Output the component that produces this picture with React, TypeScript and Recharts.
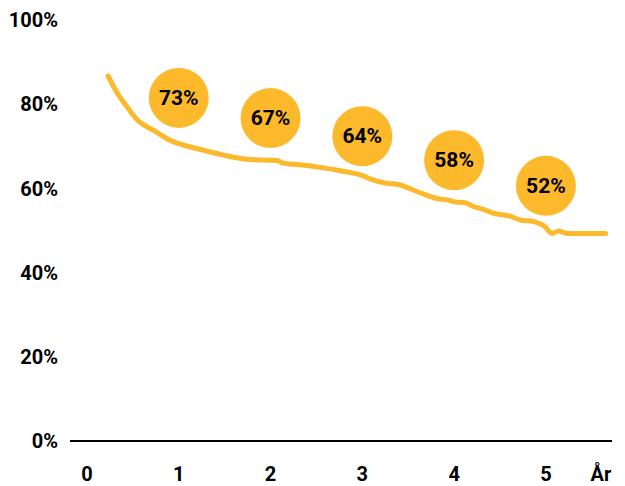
import React from 'react';
import { ComposedChart, Line, Scatter, XAxis, YAxis } from 'recharts';

// survival curve (year, percent)
const curveYears = [0.23, 0.28, 0.32, 0.38, 0.44, 0.5, 0.56, 0.65, 0.74, 0.9, 1.23, 1.6, 1.74, 2.07, 2.14, 2.32, 2.54, 2.76, 2.98, 3.09, 3.27, 3.38, 3.6, 3.81, 3.96, 4.0, 4.12, 4.21, 4.32, 4.43, 4.61, 4.72, 4.87, 4.98, 5.07, 5.14, 5.23, 5.65];
const curveValues = [86.7, 84.6, 83.0, 81.0, 79.3, 77.5, 76.0, 74.7, 73.6, 71.5, 69.3, 67.4, 66.9, 66.6, 66.0, 65.6, 65.0, 64.2, 63.2, 62.2, 61.2, 61.0, 59.2, 57.6, 57.1, 56.8, 56.6, 55.7, 55.0, 54.1, 53.4, 52.5, 52.1, 51.1, 49.3, 49.9, 49.3, 49.3];

// bubbles
const bubbleYears = [1, 2, 3, 4, 5];
const bubblePos = [81.5, 76.7, 72.4, 66.7, 60.6];
const bubbleLabels = ['73%', '67%', '64%', '58%', '52%'];

const xTicks = [0, 1, 2, 3, 4, 5, 5.6];
const yTicks = [0, 20, 40, 60, 80, 100];

const lineData = curveYears.map((year, i) => ({ year, value: curveValues[i] }));
const bubbleData = bubbleYears.map((year, i) => ({ year, value: bubblePos[i], label: bubbleLabels[i] }));

const YELLOW = '#FDB92C';
const FONT = 'Roboto, sans-serif';

const Bubble = (props: any) => {
  const { cx, cy, payload } = props;
  return (
    <g>
      <circle cx={cx} cy={cy} r={30} fill={YELLOW} />
      <text x={cx} y={cy} textAnchor="middle" dominantBaseline="central" fontFamily={FONT} fontWeight={700} fontSize={21} fill="#000">
        {payload.label}
      </text>
    </g>
  );
};

const App = () => {
  return (
    <div style={{ position: 'absolute', left: 0, top: 0, background: '#fff' }}>
      <ComposedChart width={625} height={486} margin={{ top: 20, right: 13, left: 0, bottom: 0 }}>
        <XAxis
          dataKey="year"
          type="number"
          domain={[-0.185, 5.72]}
          ticks={xTicks}
          tickFormatter={(v: number) => (v > 5.1 ? 'År' : String(v))}
          allowDataOverflow
          height={45}
          tickLine={false}
          tickMargin={20}
          axisLine={{ stroke: '#000', strokeWidth: 2 }}
          tick={{ fill: '#000', fontFamily: FONT, fontWeight: 700, fontSize: 20 }}
        />
        <YAxis
          dataKey="value"
          type="number"
          domain={[0, 100]}
          ticks={yTicks}
          tickFormatter={(v: number) => `${v}%`}
          width={70}
          axisLine={false}
          tickLine={false}
          tickMargin={6}
          tick={{ fill: '#000', fontFamily: FONT, fontWeight: 700, fontSize: 20 }}
        />
        <Line
          data={lineData}
          dataKey="value"
          type="monotone"
          stroke={YELLOW}
          strokeWidth={5}
          strokeLinecap="round"
          strokeLinejoin="round"
          dot={false}
          activeDot={false}
          isAnimationActive={false}
        />
        <Scatter data={bubbleData} dataKey="value" shape={<Bubble />} isAnimationActive={false} />
      </ComposedChart>
    </div>
  );
};

export default App;
